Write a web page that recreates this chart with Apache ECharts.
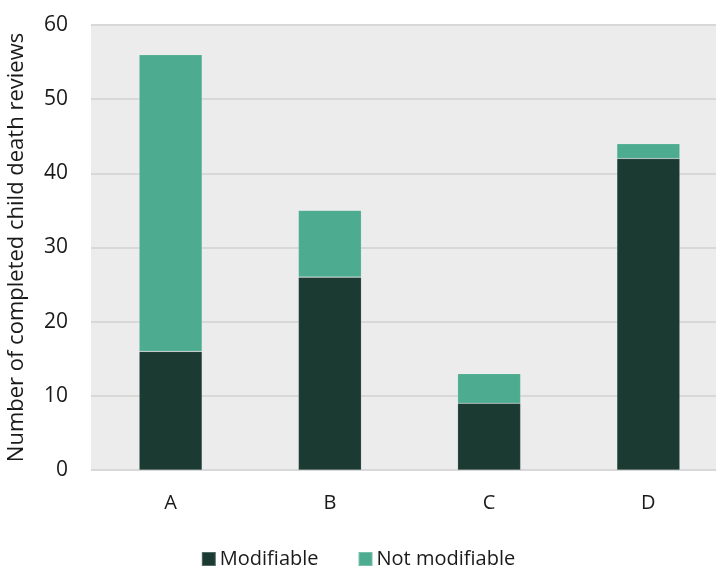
<!DOCTYPE html>
<html>
<head>
<meta charset="utf-8">
<script src="https://cdn.jsdelivr.net/npm/echarts@6/dist/echarts.min.js"></script>
<style>
  html, body { margin: 0; padding: 0; background: #ffffff; }
  #chart { width: 716px; height: 567px; }
</style>
</head>
<body>
<div id="chart"></div>
<script>
// Completed child death reviews by category
const categories = ['A', 'B', 'C', 'D'];
const modifiable = [16, 26, 9, 42];
const notModifiable = [40, 9, 4, 2];
const yTicks = { min: 0, max: 60, interval: 10 };

const font = '"Open Sans", "Noto Sans", sans-serif';
const chart = echarts.init(document.getElementById('chart'), null, { renderer: 'canvas' });

chart.setOption({
  animation: false,
  textStyle: { fontFamily: font },
  grid: {
    left: 91, top: 25, right: -12, bottom: 97,
    outerBoundsMode: 'none',
    containLabel: false,
    show: true, backgroundColor: '#ececec', borderWidth: 0
  },
  legend: {
    top: 544,
    left: 'center',
    itemWidth: 14, itemHeight: 14, itemGap: 39,
    icon: 'rect',
    textStyle: { fontSize: 20, color: '#1a1a1a', fontFamily: font, padding: [0, 0, 0, -1] },
    data: ['Modifiable', 'Not modifiable']
  },
  xAxis: {
    type: 'category',
    data: categories,
    axisLine: { show: false },
    axisTick: { show: false },
    axisLabel: { fontSize: 20, color: '#1a1a1a', margin: 23, fontFamily: font }
  },
  yAxis: {
    type: 'value',
    min: yTicks.min, max: yTicks.max, interval: yTicks.interval,
    name: 'Number of completed child death reviews',
    nameLocation: 'middle',
    nameGap: 63,
    nameTextStyle: { fontSize: 22, color: '#1a1a1a', fontFamily: font },
    axisLine: { show: false },
    axisTick: { show: false },
    axisLabel: { fontSize: 21, color: '#1a1a1a', margin: 23, fontFamily: font },
    splitLine: { lineStyle: { color: '#d8d8d8', width: 2 } }
  },
  series: [
    {
      name: 'Modifiable', type: 'bar', stack: 'total', barWidth: 63,
      itemStyle: { color: '#1b3a32', borderColor: 'rgba(255,255,255,0.25)', borderWidth: 0.6 },
      data: modifiable
    },
    {
      name: 'Not modifiable', type: 'bar', stack: 'total', barWidth: 63,
      itemStyle: { color: '#4dab8f', borderColor: 'rgba(255,255,255,0.25)', borderWidth: 0.6 },
      data: notModifiable
    }
  ]
});
</script>
</body>
</html>
